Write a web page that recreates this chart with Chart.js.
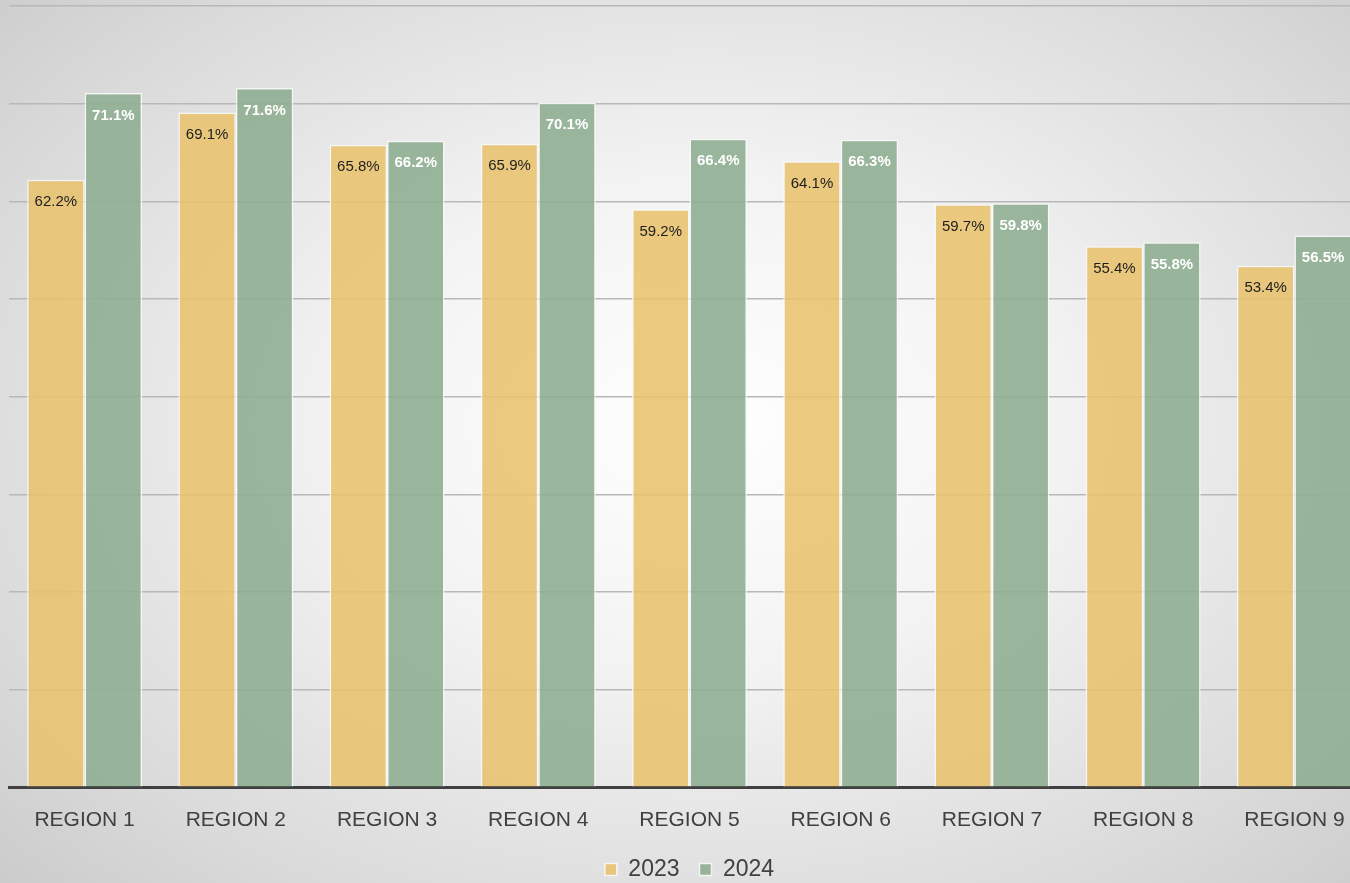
<!DOCTYPE html>
<html>
<head>
<meta charset="utf-8">
<script src="https://cdn.jsdelivr.net/npm/chart.js@4.4.1/dist/chart.umd.min.js"></script>
<style>
  html, body { margin: 0; padding: 0; width: 1350px; height: 883px; overflow: hidden; }
  body { background: radial-gradient(ellipse 75% 80% at 52% 48%, #ffffff 0%, #f3f3f3 35%, #dadada 75%, #c8c8c8 100%); }
  #wrap { position: absolute; left: 0; top: 0; width: 1372px; height: 891px; }
</style>
</head>
<body>
<div id="wrap"><canvas id="c"></canvas></div>
<script>
const categories = ["REGION 1", "REGION 2", "REGION 3", "REGION 4", "REGION 5", "REGION 6", "REGION 7", "REGION 8", "REGION 9"];
const seriesNames = ["2023", "2024"];
const values2023 = [62.2, 69.1, 65.8, 65.9, 59.2, 64.1, 59.7, 55.4, 53.4];
const values2024 = [71.1, 71.6, 66.2, 70.1, 66.4, 66.3, 59.8, 55.8, 56.5];

const labelPlugin = {
  id: 'barLabels',
  afterDatasetsDraw(chart) {
    const ctx = chart.ctx;
    ctx.save();
    ctx.textAlign = 'center';
    ctx.textBaseline = 'middle';
    chart.data.datasets.forEach((ds, di) => {
      const meta = chart.getDatasetMeta(di);
      ctx.fillStyle = di === 0 ? '#1e1e1e' : '#ffffff';
      ctx.font = (di === 0 ? '' : 'bold ') + '15px "Liberation Sans", Arial, sans-serif';
      meta.data.forEach((bar, i) => {
        ctx.fillText(ds.data[i].toFixed(1) + '%', bar.x, bar.y + 22.5);
      });
    });
    ctx.restore();
  }
};

new Chart(document.getElementById('c'), {
  type: 'bar',
  data: {
    labels: categories,
    datasets: [
      { label: seriesNames[0], data: values2023, backgroundColor: 'rgba(232,193,108,0.88)', borderColor: 'rgba(248,248,248,0.9)', borderWidth: 1.5 },
      { label: seriesNames[1], data: values2024, backgroundColor: 'rgba(143,174,145,0.9)', borderColor: 'rgba(248,248,248,0.9)', borderWidth: 1.5 }
    ]
  },
  options: {
    responsive: true,
    maintainAspectRatio: false,
    animation: false,
    layout: { padding: { left: 9, right: 2, top: 6, bottom: 0 } },
    datasets: { bar: { categoryPercentage: 0.76, barPercentage: 1.0 } },
    plugins: {
      legend: {
        position: 'bottom',
        labels: {
          boxWidth: 12, boxHeight: 12, padding: 20,
          color: '#404040',
          font: { family: '"Liberation Sans", Arial, sans-serif', size: 23 }
        }
      },
      tooltip: { enabled: false }
    },
    scales: {
      x: {
        afterFit(scale) { scale.height -= 14.5; },
        grid: { display: false, drawTicks: false },
        border: { display: true, color: '#404040', width: 3 },
        ticks: { color: '#404040', padding: 20, font: { family: '"Liberation Sans", Arial, sans-serif', size: 21 } }
      },
      y: {
        min: 0, max: 80,
        ticks: { stepSize: 10, display: false },
        border: { display: false },
        grid: { color: '#b8b8b8', lineWidth: 1.5, drawTicks: false }
      }
    }
  },
  plugins: [labelPlugin]
});
</script>
</body>
</html>
